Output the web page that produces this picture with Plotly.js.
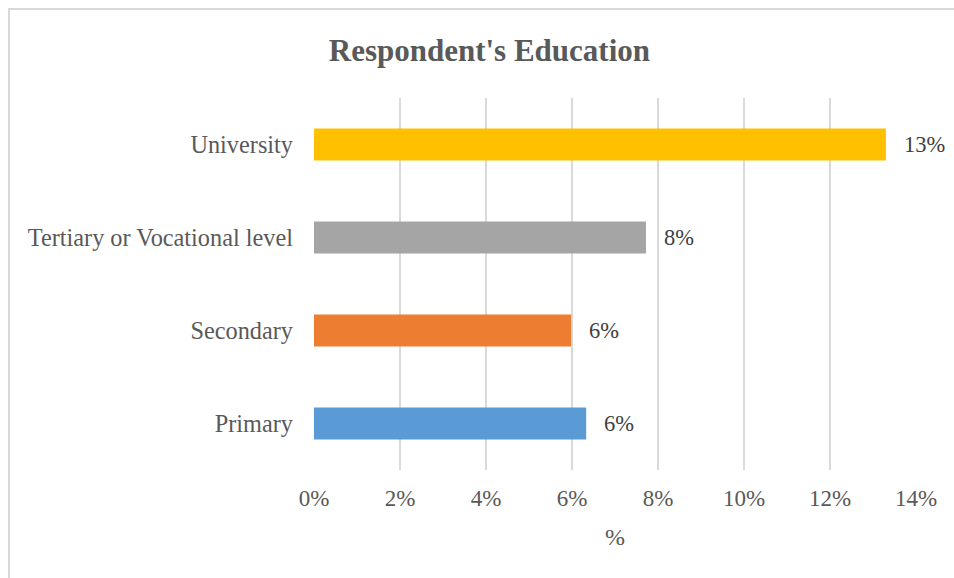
<!DOCTYPE html>
<html>
<head>
<meta charset="utf-8">
<script src="https://cdn.plot.ly/plotly-3.0.1.min.js"></script>
<style>
  html, body { margin: 0; padding: 0; background: #fff; overflow: hidden; }
  #chart { width: 954px; height: 578px; }
  #frame { position: absolute; left: 8px; top: 8px; width: 960px; height: 600px;
           border-left: 2px solid #d9d9d9; border-top: 2px solid #d9d9d9; pointer-events: none; }
</style>
</head>
<body>
<div id="chart"></div>
<div id="frame"></div>
<script>
const categories = ['Primary', 'Secondary', 'Tertiary or Vocational level', 'University'];
const values = [6.33, 5.98, 7.72, 13.3];
const labels = ['6%', '6%', '8%', '13%'];
const colors = ['#5B9BD5', '#ED7D31', '#A5A5A5', '#FFC000'];
const xTickVals = [0, 2, 4, 6, 8, 10, 12, 14];
const xTickText = ['0%', '2%', '4%', '6%', '8%', '10%', '12%', '14%'];

const serif = 'Liberation Serif, Times New Roman, serif';

const trace = {
  type: 'bar',
  orientation: 'h',
  x: values,
  y: categories,
  width: 0.345,
  marker: { color: colors },
  hoverinfo: 'skip'
};

const annotations = categories.map((c, i) => ({
  x: values[i], y: c, xref: 'x', yref: 'y',
  text: labels[i], showarrow: false,
  xanchor: 'left', yanchor: 'middle', xshift: 16,
  font: { family: serif, size: 22.5, color: '#404040' }
}));

const layout = {
  width: 954, height: 578,
  margin: { l: 314, r: 38, t: 98, b: 108 },
  paper_bgcolor: '#ffffff', plot_bgcolor: '#ffffff',
  showlegend: false,
  title: {
    text: "<b>Respondent's Education</b>",
    font: { family: serif, size: 31, color: '#595959' },
    x: 0.513, xanchor: 'center', y: 0.913, yanchor: 'middle', xref: 'container', yref: 'container'
  },
  xaxis: {
    range: [0, 14],
    tickvals: xTickVals, ticktext: xTickText,
    showgrid: true, gridcolor: '#d9d9d9', gridwidth: 1.5,
    zeroline: false, showline: false,
    ticks: '', ticklabelstandoff: 12,
    tickfont: { family: serif, size: 23, color: '#595959' },
    title: { text: '%', font: { family: serif, size: 24, color: '#595959' }, standoff: 18 }
  },
  yaxis: {
    categoryorder: 'array', categoryarray: categories,
    showgrid: false, zeroline: false, showline: false,
    ticks: '', ticklabelstandoff: 20,
    tickfont: { family: serif, size: 24.3, color: '#595959' }
  },
  annotations: annotations
};

Plotly.newPlot('chart', [trace], layout, { displayModeBar: false, staticPlot: true });
</script>
</body>
</html>
